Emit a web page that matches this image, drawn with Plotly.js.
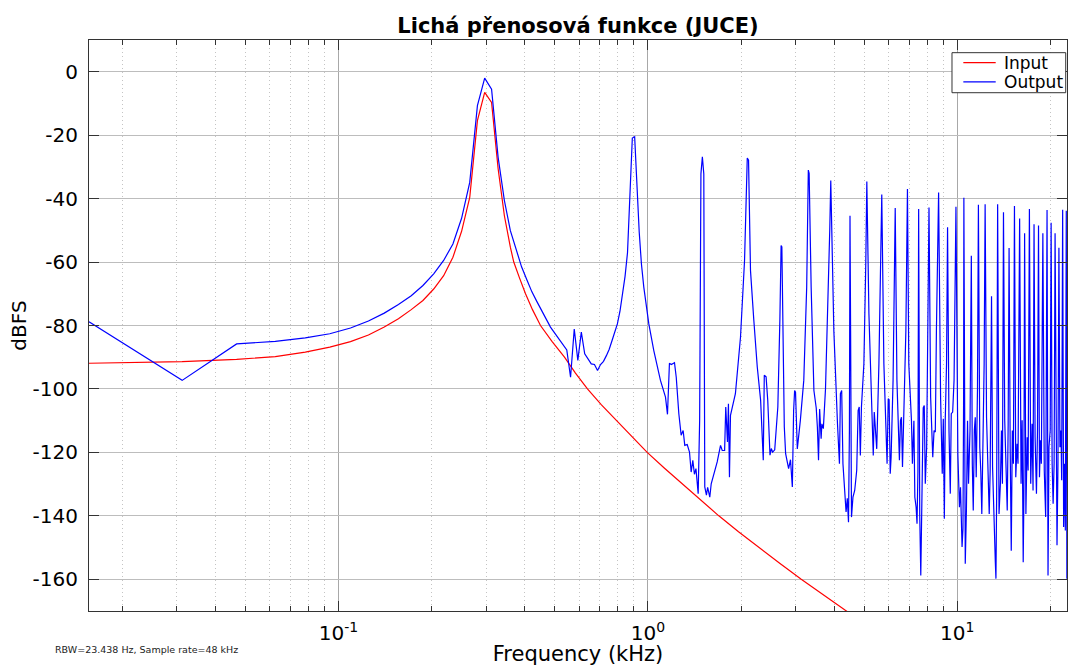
<!DOCTYPE html>
<html><head><meta charset="utf-8">
<script src="https://cdn.plot.ly/plotly-3.0.1.min.js"></script>
<style>html,body{margin:0;padding:0;background:#fff}#chart{width:1068px;height:666px}</style>
</head><body><div id="chart"></div>
<script>
const chartTitle = 'Lichá přenosová funkce (JUCE)';
const xTitle = 'Frequency (kHz)';
const yTitle = 'dBFS';
const inputName = 'Input';
const outputName = 'Output';
const noteText = 'RBW=23.438 Hz, Sample rate=48 kHz';

// [frequency kHz, level dBFS]
const inputPoints = [
[0.015625,-91.9],[0.03125,-91.4],[0.046875,-90.7],[0.0625,-89.8],[0.078125,-88.4],[0.09375,-86.8],
[0.109375,-85.1],[0.125,-83.0],[0.140625,-80.5],[0.15625,-77.9],[0.171875,-75.0],[0.1875,-72.1],
[0.203125,-68.5],[0.21875,-64.3],[0.234375,-58.5],[0.25,-50.3],[0.265625,-39.6],[0.28125,-15.4],
[0.296875,-6.5],[0.3125,-9.7],[0.328125,-30.6],[0.34375,-45.4],[0.359375,-55.3],[0.3686,-60.0],
[0.3846,-65.0],[0.4023,-70.0],[0.4237,-75.0],[0.4497,-80.0],[0.4898,-85.0],[0.5376,-90.0],
[0.5834,-95.0],[0.6378,-100.0],[0.7079,-105.0],[0.7917,-110.0],[0.8851,-115.0],[0.9948,-120.0],
[1.1318,-125.0],[1.2938,-130.0],[1.479,-135.0],[1.6952,-140.0],[1.9627,-145.0],[2.286,-150.0],
[2.673,-155.0],[3.13,-160.0],[3.695,-165.0],[4.361,-170.0],[6.13,-180.0]
];

const outputPoints = [
[0.015625,-78.8],[0.03125,-97.3],[0.046875,-85.8],[0.0625,-85.0],[0.078125,-83.9],[0.09375,-82.6],
[0.109375,-80.8],[0.125,-78.6],[0.140625,-76.1],[0.15625,-73.4],[0.171875,-70.6],[0.1875,-67.4],
[0.203125,-63.7],[0.21875,-59.5],[0.234375,-54.3],[0.25,-46.2],[0.265625,-34.9],[0.28125,-10.7],
[0.296875,-2.0],[0.3125,-5.5],[0.328125,-27.0],[0.34375,-40.6],[0.359375,-50.1],[0.375,-55.9],
[0.390625,-61.5],[0.40625,-65.6],[0.421875,-69.4],[0.4375,-72.4],[0.453125,-75.3],[0.46875,-78.1],
[0.484375,-80.5],[0.5,-82.4],[0.515625,-84.3],[0.53125,-86.0],[0.546875,-87.7],[0.5625,-96.3],
[0.578125,-81.1],[0.59375,-91.0],[0.609375,-82.1],[0.625,-88.9],[0.640625,-90.5],[0.65625,-92.1],
[0.671875,-92.3],[0.6875,-94.2],[0.703125,-92.3],[0.71875,-91.3],[0.734375,-89.5],[0.75,-87.5],
[0.765625,-84.8],[0.78125,-82.0],[0.796875,-79.5],[0.8125,-75.5],[0.828125,-70.0],[0.84375,-64.5],
[0.859375,-57.0],[0.875,-40.0],[0.890625,-20.9],[0.90625,-20.5],[0.921875,-37.5],[0.9375,-50.5],
[0.953125,-60.6],[0.97,-67.9],[1.007,-79.5],[1.045,-87.9],[1.098,-97.3],[1.14,-102.6],[1.157,-108.0],
[1.174,-91.9],[1.19,-92.3],[1.219,-91.7],[1.235,-96.3],[1.259,-107.8],[1.281,-114.6],[1.3,-113.1],
[1.316,-117.8],[1.34,-117.5],[1.363,-119.9],[1.38,-126.2],[1.397,-122.5],[1.414,-126.9],[1.43,-125.1],
[1.454,-133.0],[1.47,-109.9],[1.484,-32.2],[1.5,-26.8],[1.516,-32.2],[1.527,-130.9],[1.546,-133.5],
[1.56,-131.0],[1.585,-134.1],[1.602,-129.9],[1.634,-126.7],[1.675,-123.0],[1.717,-117.8],[1.739,-119.4],
[1.77,-119.4],[1.785,-105.7],[1.808,-116.7],[1.821,-104.7],[1.835,-127.8],[1.849,-108.3],[1.918,-101.5],
[1.992,-83.7],[2.053,-59.5],[2.079,-36.4],[2.095,-27.2],[2.115,-27.9],[2.146,-62.7],[2.2,-78.4],
[2.257,-93.1],[2.314,-103.6],[2.36,-122.5],[2.378,-95.7],[2.41,-96.2],[2.44,-103.6],[2.481,-120.9],
[2.505,-118.8],[2.53,-119.9],[2.57,-119.2],[2.63,-105.7],[2.67,-78.4],[2.695,-54.8],[2.71,-55.2],
[2.726,-76.3],[2.76,-112.0],[2.787,-120.4],[2.85,-125.1],[2.89,-122.3],[2.93,-130.9],[2.958,-106.8],
[2.98,-100.5],[3.0,-101.0],[3.04,-118.9],[3.11,-109.9],[3.19,-97.3],[3.26,-67.9],[3.3,-31.0],[3.32,-32.0],
[3.37,-67.9],[3.44,-100.5],[3.5,-106.0],[3.53,-112.0],[3.56,-122.5],[3.59,-106.3],[3.63,-115.7],
[3.65,-111.0],[3.69,-112.5],[3.75,-100.0],[3.8,-81.6],[3.87,-50.1],[3.9,-34.3],
[3.99,-81.6],[4.1,-111.0],[4.16,-123.6],[4.19,-101.5],[4.23,-100.5],[4.27,-123.6],[4.31,-128.8],
[4.37,-138.8],[4.41,-134.5],[4.45,-142.0],[4.48,-113.0],[4.5,-45.4],[4.52,-81.6],
[4.55,-140.4],[4.6,-134.1],[4.66,-132.0],[4.73,-125.7],[4.78,-106.8],[4.82,-105.7],[4.86,-121.0],
[4.9,-105.7],[4.99,-92.1],[5.06,-60.6],[5.1,-34.6],
[5.18,-76.3],[5.27,-100.5],[5.35,-121.0],[5.39,-107.3],[5.49,-118.9],[5.58,-92.1],[5.66,-60.6],[5.7,-38.7],
[5.79,-92.1],[5.89,-118.4],[5.93,-123.6],[5.98,-103.1],[6.02,-103.4],[6.07,-126.7],[6.11,-121.5],
[6.2,-97.3],[6.27,-60.6],[6.3,-43.0],
[6.38,-97.3],[6.5,-122.5],[6.55,-110.0],[6.6,-108.9],[6.65,-124.6],[6.72,-108.9],[6.82,-81.6],[6.9,-37.0],
[6.97,-92.1],[7.11,-110.0],[7.16,-123.6],[7.24,-110.0],[7.29,-134.1],[7.36,-137.3],[7.41,-142.5],
[7.46,-126.0],[7.5,-43.3],
[7.56,-139.4],[7.62,-158.8],[7.68,-136.2],[7.76,-106.0],[7.82,-105.2],[7.88,-129.9],[7.96,-118.4],
[8.06,-60.6],[8.1,-42.8],
[8.2,-102.6],[8.33,-121.5],[8.41,-113.1],[8.49,-113.6],[8.56,-81.6],[8.66,-55.4],[8.7,-38.1],
[8.83,-102.6],[8.94,-126.7],[9.01,-109.4],[9.08,-140.9],[9.14,-110.0],[9.23,-92.1],[9.3,-49.0],
[9.4,-113.1],[9.49,-133.0],[9.56,-107.8],[9.66,-107.3],[9.76,-97.3],[9.9,-42.6],
[10.04,-120.4],[10.16,-137.3],[10.24,-131.0],[10.36,-149.8],[10.43,-144.1],[10.48,-102.6],[10.5,-39.7],
[10.61,-155.1],[10.7,-138.3],[10.79,-110.0],[10.87,-129.9],[10.99,-113.1],[11.1,-58.0],
[11.18,-123.6],[11.26,-138.3],[11.35,-113.1],[11.43,-108.9],[11.51,-127.8],[11.62,-100.0],[11.7,-41.9],
[11.82,-118.4],[11.91,-126.0],[12.0,-139.4],[12.12,-113.1],[12.21,-92.1],[12.3,-41.8],
[12.43,-108.9],[12.55,-123.6],[12.68,-139.4],[12.77,-125.7],[12.9,-70.8],
[13.0,-124.6],[13.13,-142.5],[13.27,-154.6],[13.33,-159.8],[13.4,-134.1],[13.5,-41.8],
[13.64,-139.4],[13.78,-129.9],[13.89,-113.1],[13.99,-129.9],[14.1,-44.3],
[14.23,-109.9],[14.4,-131.0],[14.5,-138.3],[14.6,-111.0],[14.7,-55.6],
[14.82,-118.4],[14.94,-151.0],[15.06,-113.1],[15.18,-123.6],[15.3,-42.3],
[15.45,-127.8],[15.6,-117.3],[15.71,-123.6],[15.9,-46.3],
[16.07,-129.9],[16.2,-109.9],[16.33,-154.6],[16.41,-134.1],[16.5,-50.9],
[16.66,-139.4],[16.82,-115.2],[16.94,-125.7],[17.1,-43.3],
[17.27,-129.9],[17.44,-111.0],[17.57,-132.0],[17.7,-48.1],
[17.84,-115.2],[18.02,-133.0],[18.16,-113.1],[18.3,-48.5],
[18.43,-127.8],[18.56,-116.2],[18.69,-123.6],[18.9,-50.9],
[19.1,-125.7],[19.3,-140.4],[19.5,-43.6],
[19.64,-158.8],[19.78,-118.4],[19.96,-113.1],[20.1,-47.6],
[20.25,-123.6],[20.4,-136.2],[20.55,-123.6],[20.7,-50.9],
[20.85,-123.6],[21.0,-149.3],[21.15,-123.6],[21.3,-55.5],
[21.46,-118.4],[21.63,-113.1],[21.74,-128.8],[21.9,-43.5],
[22.06,-143.5],[22.23,-123.6],[22.34,-144.6],[22.5,-43.8],
[22.6,-159.8],[22.8,-140.0]
];

const xRangeKHz = [0.015625, 22.62];
const yRange = [-170, 10];
const xTickVals = [0.1, 1, 10];
const xTickText = ['10<sup>-1</sup>', '10<sup>0</sup>', '10<sup>1</sup>'];
const xMinorVals = [0.02,0.03,0.04,0.05,0.06,0.07,0.08,0.09,0.2,0.3,0.4,0.5,0.6,0.7,0.8,0.9,
                    2,3,4,5,6,7,8,9,20];
const yTickVals = [-160,-140,-120,-100,-80,-60,-40,-20,0];
const yTickText = ['-160','-140','-120','-100','-80','-60','-40','-20','0'];
const seriesColors = ['#ff0000', '#0000ff'];

const FONT = 'DejaVu Sans, Verdana, sans-serif';

const traces = [
  {x: inputPoints.map(p => p[0]), y: inputPoints.map(p => p[1]), name: inputName, showlegend: false,
   type: 'scatter', mode: 'lines', line: {color: seriesColors[0], width: 1.2}},
  {x: outputPoints.map(p => p[0]), y: outputPoints.map(p => p[1]), name: outputName, showlegend: false,
   type: 'scatter', mode: 'lines', line: {color: seriesColors[1], width: 1.2}}
];

const axisCommon = {
  showline: true, linecolor: '#333333', linewidth: 1, mirror: 'ticks',
  ticks: 'inside', ticklen: 10, tickcolor: '#333333', tickwidth: 1,
  showgrid: true, gridcolor: '#bdbdbd', gridwidth: 1, zeroline: false,
  tickfont: {family: FONT, size: 20, color: '#000'}
};

// legend box drawn in paper coordinates (top-right, inside the plot)
const legBox = {x0: 0.8824, x1: 0.9987, y0: 0.9077, y1: 0.9778};
const legRows = [0.9604, 0.9268];
const legLine = {x0: 0.8940, x1: 0.9271, tx: 0.9332};
const legendNames = [inputName, outputName];

const shapes = [
  {type: 'rect', xref: 'paper', yref: 'paper', x0: legBox.x0, x1: legBox.x1, y0: legBox.y0, y1: legBox.y1,
   fillcolor: '#ffffff', line: {color: '#333333', width: 1}, layer: 'above'}
].concat(legendNames.map((n, i) => ({
   type: 'line', xref: 'paper', yref: 'paper', x0: legLine.x0, x1: legLine.x1, y0: legRows[i], y1: legRows[i],
   line: {color: seriesColors[i], width: 1.2}, layer: 'above'})));

const annotations = legendNames.map((n, i) => ({
  text: n, xref: 'paper', yref: 'paper', x: legLine.tx, y: legRows[i], xanchor: 'left', yanchor: 'middle',
  showarrow: false, font: {family: FONT, size: 17, color: '#000'}
})).concat([{text: noteText, xref: 'paper', yref: 'paper', x: -0.0368, y: -0.068,
             xanchor: 'left', yanchor: 'middle', showarrow: false,
             font: {family: FONT, size: 9.5, color: '#222'}}]);

const layout = {
  width: 1068, height: 666,
  margin: {l: 89, r: 1, t: 40, b: 55},
  paper_bgcolor: '#fff', plot_bgcolor: '#fff',
  font: {family: FONT, color: '#000'},
  showlegend: false,
  title: {text: '<b>' + chartTitle + '</b>', font: {family: FONT, size: 21, color: '#000'},
          x: 0.5, xref: 'paper', xanchor: 'center', y: 0.962, yref: 'container', yanchor: 'middle'},
  xaxis: Object.assign({}, axisCommon, {
    type: 'log', range: [Math.log10(xRangeKHz[0]), Math.log10(xRangeKHz[1])],
    tickmode: 'array', tickvals: xTickVals, ticktext: xTickText,
    gridcolor: '#a8a8a8',
    ticklabelstandoff: 4,
    minor: {tickmode: 'array', tickvals: xMinorVals, ticks: 'inside', ticklen: 5,
            tickcolor: '#333333', showgrid: true, gridcolor: '#c4c4c4', griddash: '1px,3px', gridwidth: 1},
    title: {text: xTitle, font: {family: FONT, size: 21, color: '#000'}, standoff: 4}
  }),
  yaxis: Object.assign({}, axisCommon, {
    range: yRange, tickmode: 'array', tickvals: yTickVals, ticktext: yTickText,
    ticklabelstandoff: 6,
    title: {text: yTitle, font: {family: FONT, size: 20, color: '#000'}, standoff: 0}
  }),
  shapes: shapes,
  annotations: annotations
};

Plotly.newPlot('chart', traces, layout, {staticPlot: true, displayModeBar: false});
</script>
</body></html>
